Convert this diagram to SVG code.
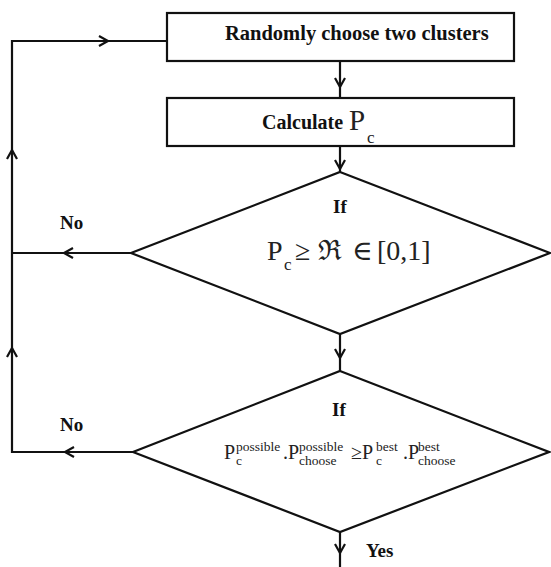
<svg xmlns="http://www.w3.org/2000/svg" xmlns:xlink="http://www.w3.org/1999/xlink" width="551" height="567" viewBox="0 0 551 567">
<style>
.shape{fill:#fff;stroke:#111;stroke-width:2.2}
.line{fill:none;stroke:#111;stroke-width:2.2}
.head{fill:none;stroke:#111;stroke-width:2.2;stroke-linejoin:miter}
.b{font-family:"Liberation Serif","Times New Roman",serif;font-weight:bold;fill:#111}
.m{font-family:"Liberation Serif","DejaVu Serif","Times New Roman",serif;fill:#222}
</style>
<defs>
<path id="ah" d="M-9,-5 L0,0 L-9,5"/>
</defs>
<rect width="551" height="567" fill="#fff"/>
<g id="connectors">
<path class="line" d="M340,61 V98"/>
<path class="line" d="M340,146 V172"/>
<path class="line" d="M340,334 V371"/>
<path class="line" d="M340,532 V567"/>
<path class="line" d="M131,253 H12"/>
<path class="line" d="M133,452 H12 V41 H167"/>
<g class="head">
<use xlink:href="#ah" transform="translate(340,87) rotate(90)"/>
<use xlink:href="#ah" transform="translate(340,169) rotate(90)"/>
<use xlink:href="#ah" transform="translate(340,358) rotate(90)"/>
<use xlink:href="#ah" transform="translate(340,553) rotate(90)"/>
<use xlink:href="#ah" transform="translate(64,253) rotate(180)"/>
<use xlink:href="#ah" transform="translate(65,452) rotate(180)"/>
<use xlink:href="#ah" transform="translate(12,348) rotate(-90)"/>
<use xlink:href="#ah" transform="translate(12,150) rotate(-90)"/>
<use xlink:href="#ah" transform="translate(108,41)"/>
</g>
<text class="b" x="60" y="229" font-size="19">No</text>
<text class="b" x="60" y="431" font-size="19">No</text>
<text class="b" x="366" y="557" font-size="19">Yes</text>
</g>
<g id="box1">
<rect class="shape" x="167" y="13" width="347" height="48"/>
<text class="b" x="225" y="40" font-size="20.5">Randomly choose two clusters</text>
</g>
<g id="box2">
<rect class="shape" x="167" y="98" width="347" height="48"/>
<text class="b" x="262" y="129" font-size="20">Calculate</text>
<text class="m" x="349" y="130" font-size="29">P</text>
<text class="m" x="367" y="143" font-size="17">c</text>
</g>
<g id="decision1">
<polygon class="shape" points="340,172 550,253 340,334 131,253"/>
<text class="b" x="333" y="213" font-size="19">If</text>
<text class="m" x="267" y="260" font-size="28">P</text>
<text class="m" x="284" y="270" font-size="17">c</text>
<text class="m" x="295" y="260" font-size="28">≥</text>
<text class="m" x="318" y="260" font-size="28">ℜ</text>
<text class="m" x="352" y="260" font-size="28">∈</text>
<text class="m" x="377" y="260" font-size="28">[0,1]</text>
</g>
<g id="decision2">
<polygon class="shape" points="340,371 549,452 340,532 133,452"/>
<text class="b" x="332" y="416" font-size="19">If</text>
<text class="m" x="224" y="459" font-size="20">P</text>
<text class="m" x="236" y="451" font-size="13.5">possible</text>
<text class="m" x="236" y="465" font-size="13.5">c</text>
<text class="m" x="283" y="459" font-size="20">.P</text>
<text class="m" x="299" y="451" font-size="13.5">possible</text>
<text class="m" x="299" y="465" font-size="13.5">choose</text>
<text class="m" x="351" y="459" font-size="20">≥P</text>
<text class="m" x="376" y="451" font-size="13.5">best</text>
<text class="m" x="376" y="465" font-size="13.5">c</text>
<text class="m" x="403" y="459" font-size="20">.P</text>
<text class="m" x="418" y="451" font-size="13.5">best</text>
<text class="m" x="418" y="465" font-size="13.5">choose</text>
</g>
</svg>
